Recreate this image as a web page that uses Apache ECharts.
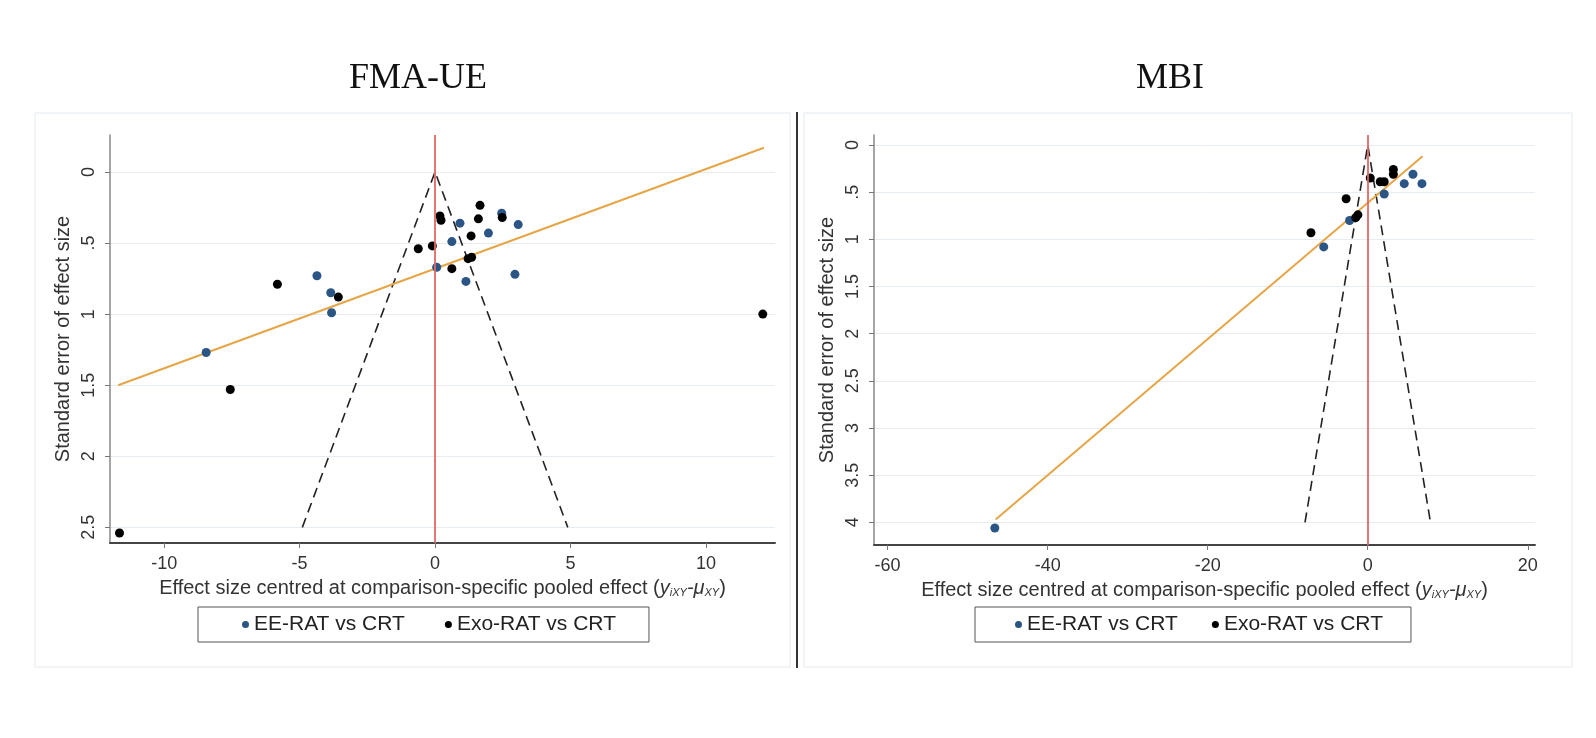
<!DOCTYPE html>
<html>
<head>
<meta charset="utf-8">
<script src="https://cdn.jsdelivr.net/npm/echarts@6/dist/echarts.min.js"></script>
<style>
  html, body { margin: 0; padding: 0; background: #fff; }
  #main { width: 1596px; height: 738px; }
</style>
</head>
<body>
<div id="main"></div>
<script>
// FMA-UE panel
var fmaEEx = [0.92, 1.97, 3.07, 0.62, 0.06, 1.14, 2.95, 2.46, -4.36, -3.85, -3.82, -8.45];
var fmaEEy = [0.36, 0.43, 0.37, 0.49, 0.67, 0.77, 0.72, 0.29, 0.73, 0.85, 0.99, 1.27];
var fmaExoX = [1.66, 0.18, 0.22, 1.6, 2.48, 1.33, -0.1, -0.62, 1.22, 1.35, 0.62, -5.82, -3.57, -7.56, -11.65, 12.1];
var fmaExoY = [0.235, 0.31, 0.34, 0.33, 0.32, 0.45, 0.52, 0.54, 0.61, 0.6, 0.68, 0.79, 0.88, 1.53, 2.54, 1.0];
var fmaFitX = [-11.7, 12.14];
var fmaFitY = [1.5, -0.17];
var fmaFunnelSe = 2.5;

// MBI panel
var mbiEEx = [4.56, 5.65, 6.77, 2.06, -2.27, -5.5, -46.6];
var mbiEEy = [0.41, 0.31, 0.41, 0.52, 0.8, 1.08, 4.06];
var mbiExoX = [0.31, 1.56, 2.06, 3.2, 3.2, -2.7, -1.23, -1.5, -7.1];
var mbiExoY = [0.35, 0.39, 0.39, 0.26, 0.31, 0.57, 0.74, 0.77, 0.93];
var mbiFitX = [-46.5, 6.85];
var mbiFitY = [3.97, 0.12];
var mbiFunnelSe = 4;

var zCrit = 1.96;
var fmaXTicks = [-10, -5, 0, 5, 10];
var fmaYTicks = [0, 0.5, 1, 1.5, 2, 2.5];
var mbiXTicks = [-60, -40, -20, 0, 20];
var mbiYTicks = [0, 0.5, 1, 1.5, 2, 2.5, 3, 3.5, 4];

var seriesNames = ['EE-RAT vs CRT', 'Exo-RAT vs CRT'];
var blue = '#2a5584';
var font = 'Liberation Sans, Arial, sans-serif';

function pairs(xs, ys) {
  return xs.map(function (x, i) { return [x, ys[i]]; });
}
function funnel(se) {
  return [[-zCrit * se, se], [0, 0], [zCrit * se, se]];
}
function seLabel(v) {
  return String(v).replace(/^0\./, '.');
}

var xName = 'Effect size centred at comparison-specific pooled effect ({i|y}{s|iXY}{i|-μ}{s|XY})';
var xNameStyle = {
  fontSize: 20, color: '#333', fontFamily: font,
  rich: {
    i: { fontSize: 20, fontStyle: 'italic', color: '#333', fontFamily: font },
    s: { fontSize: 11, fontStyle: 'italic', color: '#333', fontFamily: font, padding: [9, 0, 0, 0] }
  }
};

function xAxisFor(grid, min, max, ticks) {
  return {
    type: 'value', gridIndex: grid, min: min, max: max,
    name: xName, nameLocation: 'middle', nameGap: 35, nameTextStyle: xNameStyle,
    axisLine: { onZero: false, lineStyle: { color: '#444', width: 2 } },
    axisTick: { show: true, length: 5, customValues: ticks, lineStyle: { color: '#777' } },
    axisLabel: { customValues: ticks, margin: 12, fontSize: 18, color: '#333', fontFamily: font },
    splitLine: { show: false }
  };
}
function yAxisFor(grid, min, max, ticks) {
  return {
    type: 'value', gridIndex: grid, min: min, max: max, inverse: true,
    name: 'Standard error of effect size', nameLocation: 'middle', nameGap: 37, nameRotate: 90,
    nameTextStyle: { fontSize: 20, color: '#333', fontFamily: font },
    axisLine: { show: true, onZero: false, lineStyle: { color: '#888', width: 1.5 } },
    axisTick: { show: true, length: 5, customValues: ticks, lineStyle: { color: '#777' } },
    axisLabel: { customValues: ticks, rotate: 90, margin: 12, fontSize: 18, color: '#333', fontFamily: font, formatter: seLabel },
    splitLine: { show: true, lineStyle: { color: '#e6edf2', width: 1 } }
  };
}

function panelSeries(idx, eeX, eeY, exoX, exoY, fitX, fitY, se) {
  return [
    {
      type: 'line', xAxisIndex: idx, yAxisIndex: idx, data: funnel(se), symbol: 'none',
      lineStyle: { color: '#222', width: 1.6, type: [10, 6] }, silent: true, z: 2,
      markLine: {
        symbol: 'none', silent: true, label: { show: false },
        lineStyle: { color: '#e06868', width: 1.8, type: 'solid' },
        data: [{ xAxis: 0 }]
      }
    },
    {
      type: 'line', xAxisIndex: idx, yAxisIndex: idx, data: pairs(fitX, fitY), symbol: 'none',
      lineStyle: { color: '#e6a546', width: 2 }, silent: true, z: 3
    },
    {
      name: seriesNames[0], type: 'scatter', xAxisIndex: idx, yAxisIndex: idx,
      data: pairs(eeX, eeY), symbolSize: 9, itemStyle: { color: blue, opacity: 1 }, z: 4
    },
    {
      name: seriesNames[1], type: 'scatter', xAxisIndex: idx, yAxisIndex: idx,
      data: pairs(exoX, exoY), symbolSize: 9, itemStyle: { color: '#000', opacity: 1 }, z: 4
    }
  ];
}

function legendAt(left, gap, padding) {
  return {
    left: left, top: 607, data: seriesNames, orient: 'horizontal',
    icon: 'circle', itemWidth: 7, itemHeight: 7, itemGap: gap,
    borderColor: '#555', borderWidth: 1, padding: padding,
    selectedMode: false,
    textStyle: { fontSize: 21, color: '#222', fontFamily: font }
  };
}

var chart = echarts.init(document.getElementById('main'), null, { renderer: 'canvas' });

var option = {
  backgroundColor: '#fff',
  animation: false,
  title: [
    { text: 'FMA-UE', left: 413, top: 56, textAlign: 'center',
      textStyle: { fontFamily: 'Liberation Serif, Times New Roman, serif', fontSize: 36, fontWeight: 'normal', color: '#111' } },
    { text: 'MBI', left: 1165, top: 56, textAlign: 'center',
      textStyle: { fontFamily: 'Liberation Serif, Times New Roman, serif', fontSize: 36, fontWeight: 'normal', color: '#111' } }
  ],
  graphic: [
    { type: 'rect', shape: { x: 35, y: 113, width: 755, height: 554 }, style: { fill: 'none', stroke: '#e4ebef', lineWidth: 1 }, z: -1 },
    { type: 'rect', shape: { x: 804, y: 113, width: 768, height: 554 }, style: { fill: 'none', stroke: '#e4ebef', lineWidth: 1 }, z: -1 },
    { type: 'line', shape: { x1: 797, y1: 112, x2: 797, y2: 668 }, style: { stroke: '#333', lineWidth: 2 } }
  ],
  legend: [
    legendAt(198, 40, [7, 33, 7, 44]),
    legendAt(975, 34, [7, 28, 7, 40])
  ],
  grid: [
    { left: 110, top: 135, width: 665, height: 408 },
    { left: 874, top: 135, width: 661, height: 410 }
  ],
  xAxis: [
    xAxisFor(0, -12, 12.55, fmaXTicks),
    xAxisFor(1, -61.7, 20.9, mbiXTicks)
  ],
  yAxis: [
    yAxisFor(0, -0.26, 2.61, fmaYTicks),
    yAxisFor(1, -0.106, 4.24, mbiYTicks)
  ],
  series: [].concat(
    panelSeries(0, fmaEEx, fmaEEy, fmaExoX, fmaExoY, fmaFitX, fmaFitY, fmaFunnelSe),
    panelSeries(1, mbiEEx, mbiEEy, mbiExoX, mbiExoY, mbiFitX, mbiFitY, mbiFunnelSe)
  )
};

chart.setOption(option);

window.addEventListener('resize', function () {
  chart.resize();
});
</script>
</body>
</html>
